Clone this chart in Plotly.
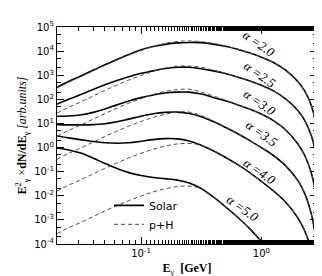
import plotly.graph_objects as go
import math

# Photon energies (GeV)
energy = [0.02, 0.025, 0.032, 0.04, 0.05, 0.063, 0.079, 0.1, 0.126, 0.158, 0.2, 0.251, 0.316,
          0.398, 0.501, 0.631, 0.794, 1.0, 1.26, 1.58, 2.0, 2.29, 2.6, 2.8, 2.9]

# log10 of E^2 dN/dE (arb. units)
solar_20 = [2.50, 2.74, 2.98, 3.21, 3.43, 3.65, 3.86, 4.06, 4.19, 4.28, 4.34, 4.36, 4.35, 4.29, 4.2,
            4.08, 3.93, 3.75, 3.53, 3.22, 2.75, 2.35, 1.75, 1.15, 0.7]
ph_20 = [2.47, 2.71, 2.95, 3.18, 3.41, 3.63, 3.84, 4.02, 4.19, 4.32, 4.40, 4.42, 4.39, 4.32, 4.22,
         4.09, 3.93, 3.75, 3.53, 3.22, 2.75, 2.35, 1.75, 1.15, 0.7]
solar_25 = [1.80, 2.0, 2.21, 2.41, 2.6, 2.78, 2.94, 3.08, 3.18, 3.28, 3.33, 3.33, 3.27, 3.18, 3.07,
            2.93, 2.77, 2.58, 2.35, 2.03, 1.55, 1.13, 0.5, -0.15, -0.65]
ph_25 = [1.43, 1.67, 1.91, 2.14, 2.37, 2.59, 2.8, 2.99, 3.16, 3.29, 3.38, 3.38, 3.33, 3.21, 3.08,
         2.93, 2.77, 2.58, 2.35, 2.03, 1.55, 1.13, 0.5, -0.15, -0.65]
solar_30 = [1.30, 1.31, 1.36, 1.46, 1.6, 1.77, 1.93, 2.07, 2.18, 2.26, 2.3, 2.30, 2.22, 2.08, 1.94,
            1.78, 1.6, 1.39, 1.12, 0.75, 0.17, -0.32, -1.05, -1.8, -2.4]
ph_30 = [0.47, 0.71, 0.95, 1.18, 1.41, 1.63, 1.84, 2.03, 2.2, 2.33, 2.40, 2.42, 2.3, 2.14, 1.97,
         1.78, 1.6, 1.39, 1.12, 0.75, 0.17, -0.32, -1.05, -1.8, -2.4]
solar_35 = [0.95, 0.94, 0.94, 0.95, 0.99, 1.07, 1.18, 1.3, 1.4, 1.46, 1.47, 1.41, 1.28, 1.08, 0.84,
            0.58, 0.3, 0.0, -0.33, -0.74, -1.35, -1.9, -2.75, -3.6, -4.2]
ph_35 = [-0.48, -0.24, 0.0, 0.23, 0.46, 0.68, 0.89, 1.08, 1.25, 1.38, 1.47, 1.47, 1.33, 1.1, 0.85,
         0.58, 0.3, 0.0, -0.33, -0.74, -1.35, -1.9, -2.75, -3.6, -4.2]
solar_40 = [0.48, 0.40, 0.32, 0.25, 0.2, 0.18, 0.2, 0.26, 0.33, 0.37, 0.36, 0.27, 0.1, -0.13, -0.4,
            -0.7, -1.03, -1.4, -1.8, -2.25, -2.9, -3.45, -4.2, -4.9, -5.4]
ph_40 = [-1.8, -1.56, -1.32, -1.09, -0.86, -0.64, -0.43, -0.24, -0.07, 0.06, 0.15, 0.17, 0.1, -0.12, -0.4,
         -0.7, -1.03, -1.4, -1.8, -2.25, -2.9, -3.45, -4.2, -4.9, -5.4]
solar_50 = [-0.02, -0.1, -0.24, -0.44, -0.66, -0.87, -1.04, -1.16, -1.24, -1.29, -1.35, -1.47, -1.7, -2.05, -2.45,
            -2.88, -3.35, -3.9, -4.6, -5.4, -6.3, -7.0, -8.0, -9.0, -9.5]
ph_50 = [-3.57, -3.33, -3.09, -2.86, -2.63, -2.41, -2.2, -2.01, -1.84, -1.71, -1.62, -1.6, -1.7, -2.05, -2.45,
         -2.88, -3.35, -3.9, -4.6, -5.4, -6.3, -7.0, -8.0, -9.0, -9.5]

alpha_labels = ["2.0", "2.5", "3.0", "3.5", "4.0", "5.0"]
# label anchors (log10 E, log10 value)
label_x = [-0.021, -0.013, -0.013, 0.003, -0.013, -0.153]
label_y = [4.3, 3.02, 1.88, 0.58, -0.98, -2.52]

x_ticks = [0.1, 1.0]
x_ticktext = ["10<sup>-1</sup>", "10<sup>0</sup>"]
y_exps = [-4, -3, -2, -1, 0, 1, 2, 3, 4, 5]

solars = [solar_20, solar_25, solar_30, solar_35, solar_40, solar_50]
phs = [ph_20, ph_25, ph_30, ph_35, ph_40, ph_50]

fig = go.Figure()
for i, s in enumerate(solars):
    fig.add_trace(go.Scatter(x=energy, y=[10 ** v for v in s], mode="lines",
                             line=dict(color="black", width=1.6, shape="spline", smoothing=1.0),
                             name="Solar", showlegend=(i == 0), legendrank=1))
for i, p in enumerate(phs):
    fig.add_trace(go.Scatter(x=energy, y=[10 ** v for v in p], mode="lines",
                             line=dict(color="#4d4d4d", width=1, dash="4px,3px", shape="spline", smoothing=1.0),
                             name="p+H", showlegend=(i == 0), legendrank=2))

for lab, lx, ly in zip(alpha_labels, label_x, label_y):
    fig.add_annotation(x=lx, y=ly, xref="x", yref="y", text="<i>α =" + lab + "</i>",
                       showarrow=False, textangle=35,
                       font=dict(family="Liberation Serif", size=13, color="black"))

axis_common = dict(type="log", showgrid=False, zeroline=False, showline=True, linecolor="black",
                   linewidth=1.2, mirror="allticks", ticks="inside", ticklen=7, tickwidth=1,
                   tickcolor="black",
                   minor=dict(ticks="inside", ticklen=3.5, tickwidth=1, tickcolor="black", showgrid=False),
                   tickfont=dict(family="DejaVu Sans", size=10, color="black"))

fig.update_xaxes(**axis_common, range=[math.log10(0.02), math.log10(2.9)],
                 tickvals=x_ticks, ticktext=x_ticktext,
                 title=dict(text="<b>E</b><sub>γ</sub>  <b>[GeV]</b>",
                            font=dict(family="Liberation Serif", size=12, color="black"), standoff=5))
fig.update_yaxes(**axis_common, range=[-4, 5],
                 tickvals=[10 ** e for e in y_exps],
                 ticktext=["10<sup>%d</sup>" % e for e in y_exps],
                 title=dict(text="<b>E</b><sup>2</sup><sub>γ</sub> ×<b>dN/dE</b><sub>γ</sub> <i>[arb.units]</i>",
                            font=dict(family="Liberation Serif", size=12, color="black"), standoff=4))

fig.update_layout(width=322, height=276, margin=dict(l=49, r=12, t=12, b=38),
                  plot_bgcolor="white", paper_bgcolor="white",
                  legend=dict(x=0.2, y=0.245, xanchor="left", yanchor="top", bgcolor="rgba(0,0,0,0)",
                              font=dict(family="DejaVu Sans", size=11, color="black"),
                              tracegroupgap=0, itemwidth=30))

fig.write_html("out.html")
